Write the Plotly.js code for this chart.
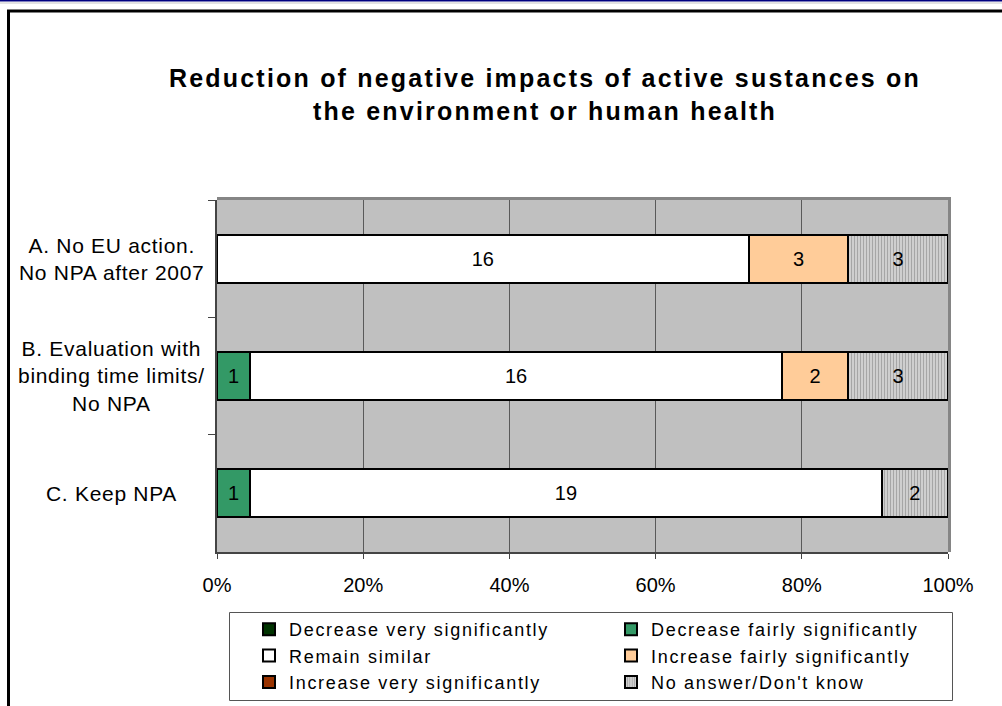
<!DOCTYPE html>
<html>
<head>
<meta charset="utf-8">
<script src="https://cdn.plot.ly/plotly-3.0.1.min.js"></script>
<style>
  html, body { margin: 0; padding: 0; background: #ffffff; }
  #chart { width: 1002px; height: 706px; }
  .gtitle { letter-spacing: 2.2px; }
  .legendtext { letter-spacing: 1.7px; }
  .annotation-text { letter-spacing: 0.7px; }
</style>
</head>
<body>
<div id="chart"></div>
<script>
// ---- data ----
const categories = [
  "A. No EU action.<br>No NPA after 2007",
  "B. Evaluation with<br>binding time limits/<br>No NPA",
  "C. Keep NPA"
];
const seriesNames = [
  "Decrease very significantly",
  "Decrease fairly significantly",
  "Remain similar",
  "Increase fairly significantly",
  "Increase very significantly",
  "No answer/Don't know"
];
const decreaseVery   = [0, 0, 0];
const decreaseFairly = [0, 1, 1];
const remainSimilar  = [16, 16, 19];
const increaseFairly = [3, 2, 0];
const increaseVery   = [0, 0, 0];
const noAnswer       = [3, 3, 2];
const xTickVals   = [0, 20, 40, 60, 80, 100];
const xTickLabels = ["0%", "20%", "40%", "60%", "80%", "100%"];
const titleText = "Reduction of negative impacts of active sustances on<br>the environment or human health";

// ---- styling ----
const FONT = "Liberation Sans, Arial, Helvetica, sans-serif";
const seriesValues = [decreaseVery, decreaseFairly, remainSimilar, increaseFairly, increaseVery, noAnswer];
const seriesColors = ["#003300", "#339966", "#ffffff", "#ffcc99", "#993300", "#d4d4d4"];

// pixel -> paper helpers (plot area: x 217..948, y 200..552)
const L = 217, R = 948, T = 200, B = 552, W = 1002, H = 706;
const px = v => (v - L) / (R - L);
const py = v => (B - v) / (B - T);

const traces = seriesValues.map((vals, i) => {
  const tr = {
    type: "bar",
    orientation: "h",
    name: seriesNames[i],
    y: categories,
    x: vals.map(v => (v === 0 ? null : v)),
    text: vals.map(v => (v === 0 ? "" : String(v))),
    textposition: "inside",
    insidetextanchor: "middle",
    textangle: 0,
    constraintext: "none",
    insidetextfont: { family: FONT, size: 20, color: "#000000" },
    hoverinfo: "name+text",
    marker: { color: seriesColors[i], line: { color: "#000000", width: 2 } }
  };
  if (i === 5) {
    tr.marker.pattern = { shape: "|", size: 3, solidity: 0.4, fgcolor: "#a6a6a6", bgcolor: "#d4d4d4" };
  }
  return tr;
});

const annotations = categories.map(c => ({
  xref: "paper", yref: "y",
  x: px(112), y: c,
  xanchor: "center", yanchor: "middle",
  text: c, showarrow: false, align: "center",
  font: { family: FONT, size: 21, color: "#000000" }
}));

const shapes = [
  // top navy rule and grey rule of the page
  { type: "line", xref: "paper", yref: "paper", x0: px(-5), x1: px(1010), y0: py(0.5), y1: py(0.5), line: { color: "#000080", width: 2 } },
  { type: "line", xref: "paper", yref: "paper", x0: px(-5), x1: px(1010), y0: py(3), y1: py(3), line: { color: "#c8c8c8", width: 1 } },
  // outer chart border
  { type: "rect", xref: "paper", yref: "paper", x0: px(8.5), x1: px(1020), y0: py(730), y1: py(11), line: { color: "#000000", width: 3 } },
  // plot area top and right edges
  { type: "line", xref: "paper", yref: "paper", x0: 0, x1: px(950), y0: py(198.5), y1: py(198.5), line: { color: "#858585", width: 3 }, layer: "below" },
  { type: "line", xref: "paper", yref: "paper", x0: px(949.5), x1: px(949.5), y0: 0, y1: py(197), line: { color: "#858585", width: 3 }, layer: "below" },
  // legend box
  { type: "rect", xref: "paper", yref: "paper", x0: px(229.5), x1: px(952.5), y0: py(700.5), y1: py(612.5), line: { color: "#555555", width: 1 } }
];

const layout = {
  width: W, height: H,
  paper_bgcolor: "#ffffff",
  plot_bgcolor: "#c0c0c0",
  font: { family: FONT, size: 20, color: "#000000" },
  margin: { l: L, r: W - R, t: T, b: H - B, autoexpand: false },
  barmode: "stack",
  barnorm: "percent",
  bargap: 0.59,
  title: {
    text: titleText,
    xref: "container", yref: "container",
    x: 545 / W, xanchor: "center",
    y: 1 - 87 / H, yanchor: "middle",
    font: { family: FONT, size: 25, color: "#000000", weight: "bold" }
  },
  xaxis: {
    range: [0, 100],
    tickvals: xTickVals,
    ticktext: xTickLabels,
    ticks: "outside", ticklen: 5, tickwidth: 1, tickcolor: "#444444",
    ticklabelstandoff: 9,
    showgrid: true, gridcolor: "#5a5a5a", gridwidth: 1,
    zeroline: false,
    showline: true, linecolor: "#444444", linewidth: 2,
    tickfont: { family: FONT, size: 20, color: "#000000" },
    fixedrange: true
  },
  yaxis: {
    type: "category",
    categoryorder: "array",
    categoryarray: categories,
    autorange: "reversed",
    showticklabels: false,
    ticks: "outside", tickson: "boundaries", ticklen: 7, tickwidth: 1, tickcolor: "#444444",
    showgrid: false, zeroline: false,
    showline: true, linecolor: "#444444", linewidth: 2,
    fixedrange: true
  },
  showlegend: true,
  legend: {
    orientation: "h",
    traceorder: "normal",
    x: px(249), xanchor: "left",
    y: py(611), yanchor: "top",
    entrywidth: 317,
    bgcolor: "rgba(0,0,0,0)",
    borderwidth: 0,
    font: { family: FONT, size: 18, color: "#000000" },
    itemclick: false, itemdoubleclick: false
  },
  annotations: annotations,
  shapes: shapes
};

Plotly.newPlot("chart", traces, layout, { displayModeBar: false, staticPlot: true });
</script>
</body>
</html>
